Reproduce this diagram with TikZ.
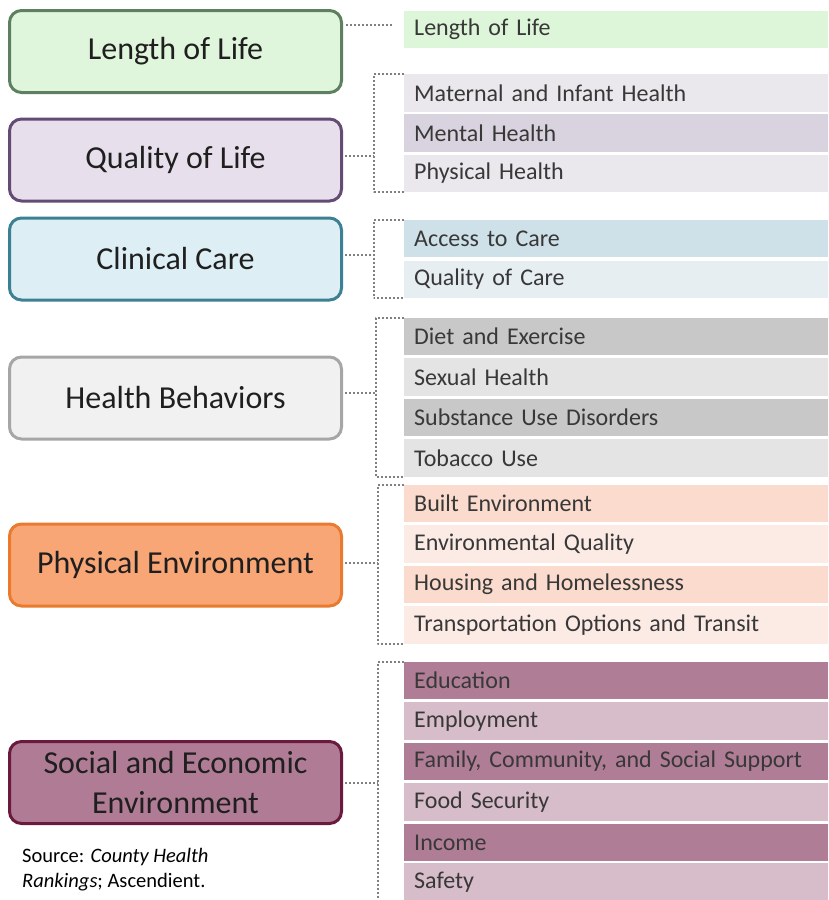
\documentclass[tikz,border=0pt]{standalone}
\usepackage{fontspec}
\setmainfont{Carlito}
\usetikzlibrary{calc}

\definecolor{lifeline}{HTML}{5E8060}  \definecolor{lifefill}{HTML}{E0F6DC}
\definecolor{qualline}{HTML}{644B74}  \definecolor{qualfill}{HTML}{E7DFEC}
\definecolor{clinline}{HTML}{3C8093}  \definecolor{clinfill}{HTML}{DDEEF4}
\definecolor{behline}{HTML}{A6A6A6}   \definecolor{behfill}{HTML}{F1F1F1}
\definecolor{physline}{HTML}{E97A2E}  \definecolor{physfill}{HTML}{F8A676}
\definecolor{socline}{HTML}{6A1A3C}   \definecolor{socfill}{HTML}{B07C95}
\definecolor{barlife}{HTML}{DDF5D8}
\definecolor{barqa}{HTML}{EAE8ED}     \definecolor{barqb}{HTML}{D8D3DE}
\definecolor{barca}{HTML}{CFE1E8}     \definecolor{barcb}{HTML}{E6EEF2}
\definecolor{barha}{HTML}{C8C8C8}     \definecolor{barhb}{HTML}{E4E4E4}
\definecolor{barpa}{HTML}{FADBCD}     \definecolor{barpb}{HTML}{FCEBE5}
\definecolor{barsa}{HTML}{B07D96}     \definecolor{barsb}{HTML}{D7BCC9}
\definecolor{bartext}{HTML}{383838}
\definecolor{dotgray}{HTML}{808080}

\begin{document}
\begin{tikzpicture}[x=1pt,y=-1pt,line join=round,
    catbox/.style={draw,line width=3pt,rounded corners=12pt,minimum width=332pt,
      minimum height=82pt,align=center,text=black!88,
      font=\fontsize{32}{40}\selectfont},
    itembar/.style={anchor=west,minimum width=424pt,minimum height=37.5pt,
      inner xsep=10pt,text width=404pt,align=left,text=bartext,
      font=\fontsize{24}{28}\selectfont},
    link/.style={draw=dotgray,line width=2pt,dash pattern=on 2pt off 2pt}]
  \useasboundingbox (0,0) rectangle (828,900);
  % left column
  \node[catbox,draw=lifeline,fill=lifefill] (life) at (175.5,51.5) {Length of Life};
  \node[catbox,draw=qualline,fill=qualfill] (qual) at (175.5,160) {Quality of Life};
  \node[catbox,draw=clinline,fill=clinfill] (clin) at (175.5,259) {Clinical Care};
  \node[catbox,draw=behline,fill=behfill] (beh) at (175.5,398) {Health Behaviors};
  \node[catbox,draw=physline,fill=physfill] (phys) at (175.5,565) {Physical Environment};
  \node[catbox,draw=socline,fill=socfill] (soc) at (175.5,782.5)
    {Social and Economic\\Environment};
  \node[anchor=west,align=left,inner sep=0pt,font=\fontsize{20.5}{25}\selectfont]
    (src) at (22,869.5) {Source: \textit{County Health}\\\textit{Rankings}; Ascendient.};
  % right column
  \node[itembar,fill=barlife] (l1) at (404,29.5) {Length of Life};
  \node[itembar,fill=barqa] (q1) at (404,93) {Maternal and Infant Health};
  \node[itembar,fill=barqb] (q2) at (404,133.2) {Mental Health};
  \node[itembar,fill=barqa] (q3) at (404,173.5) {Physical Health};
  \node[itembar,fill=barca] (c1) at (404,238.5) {Access to Care};
  \node[itembar,fill=barcb] (c2) at (404,279.5) {Quality of Care};
  \node[itembar,fill=barha] (h1) at (404,336.5) {Diet and Exercise};
  \node[itembar,fill=barhb] (h2) at (404,377) {Sexual Health};
  \node[itembar,fill=barha] (h3) at (404,417.5) {Substance Use Disorders};
  \node[itembar,fill=barhb] (h4) at (404,458) {Tobacco Use};
  \node[itembar,fill=barpa] (p1) at (404,503.5) {Built Environment};
  \node[itembar,fill=barpb] (p2) at (404,544) {Environmental Quality};
  \node[itembar,fill=barpa] (p3) at (404,584.5) {Housing and Homelessness};
  \node[itembar,fill=barpb] (p4) at (404,625) {Transportation Options and Transit};
  \node[itembar,fill=barsa] (s1) at (404,680.5) {Education};
  \node[itembar,fill=barsb] (s2) at (404,721) {Employment};
  \node[itembar,fill=barsa] (s3) at (404,761.5) {Family, Community, and Social Support};
  \node[itembar,fill=barsb] (s4) at (404,802) {Food Security};
  \node[itembar,fill=barsa] (s5) at (404,842.5) {Income};
  \node[itembar,fill=barsb] (s6) at (404,882) {Safety};
  % brackets
  \draw[link] ([xshift=3pt,yshift=26.5pt]life.east) -- ([xshift=-12pt,yshift=4.5pt]l1.west);
  \coordinate (qb) at ([xshift=-30pt]q1.north west);
  \draw[link] (q1.north west) -- (qb) |- (q3.south west);
  \draw[link] ([xshift=2pt,yshift=4pt]qual.east) -- ([yshift=4pt]qual.east -| qb);
  \coordinate (cb) at ([xshift=-30pt]c1.north west);
  \draw[link] (c1.north west) -- (cb) |- (c2.south west);
  \draw[link] ([xshift=2pt,yshift=4pt]clin.east) -- ([yshift=4pt]clin.east -| cb);
  \coordinate (hb) at ([xshift=-28pt]h1.north west);
  \draw[link] (h1.north west) -- (hb) |- (h4.south west);
  \draw[link] ([xshift=2pt,yshift=5pt]beh.east) -- ([yshift=5pt]beh.east -| hb);
  \coordinate (pb) at ([xshift=-26pt]p1.north west);
  \draw[link] (p1.north west) -- (pb) |- (p4.south west);
  \draw[link] ([xshift=2pt,yshift=2pt]phys.east) -- ([yshift=2pt]phys.east -| pb);
  \coordinate (sb) at ([xshift=-26pt]s1.north west);
  \draw[link] (s1.north west) -- (sb) |- (s6.south west);
  \draw[link] ([xshift=2pt]soc.east) -- (soc.east -| sb);
\end{tikzpicture}
\end{document}
